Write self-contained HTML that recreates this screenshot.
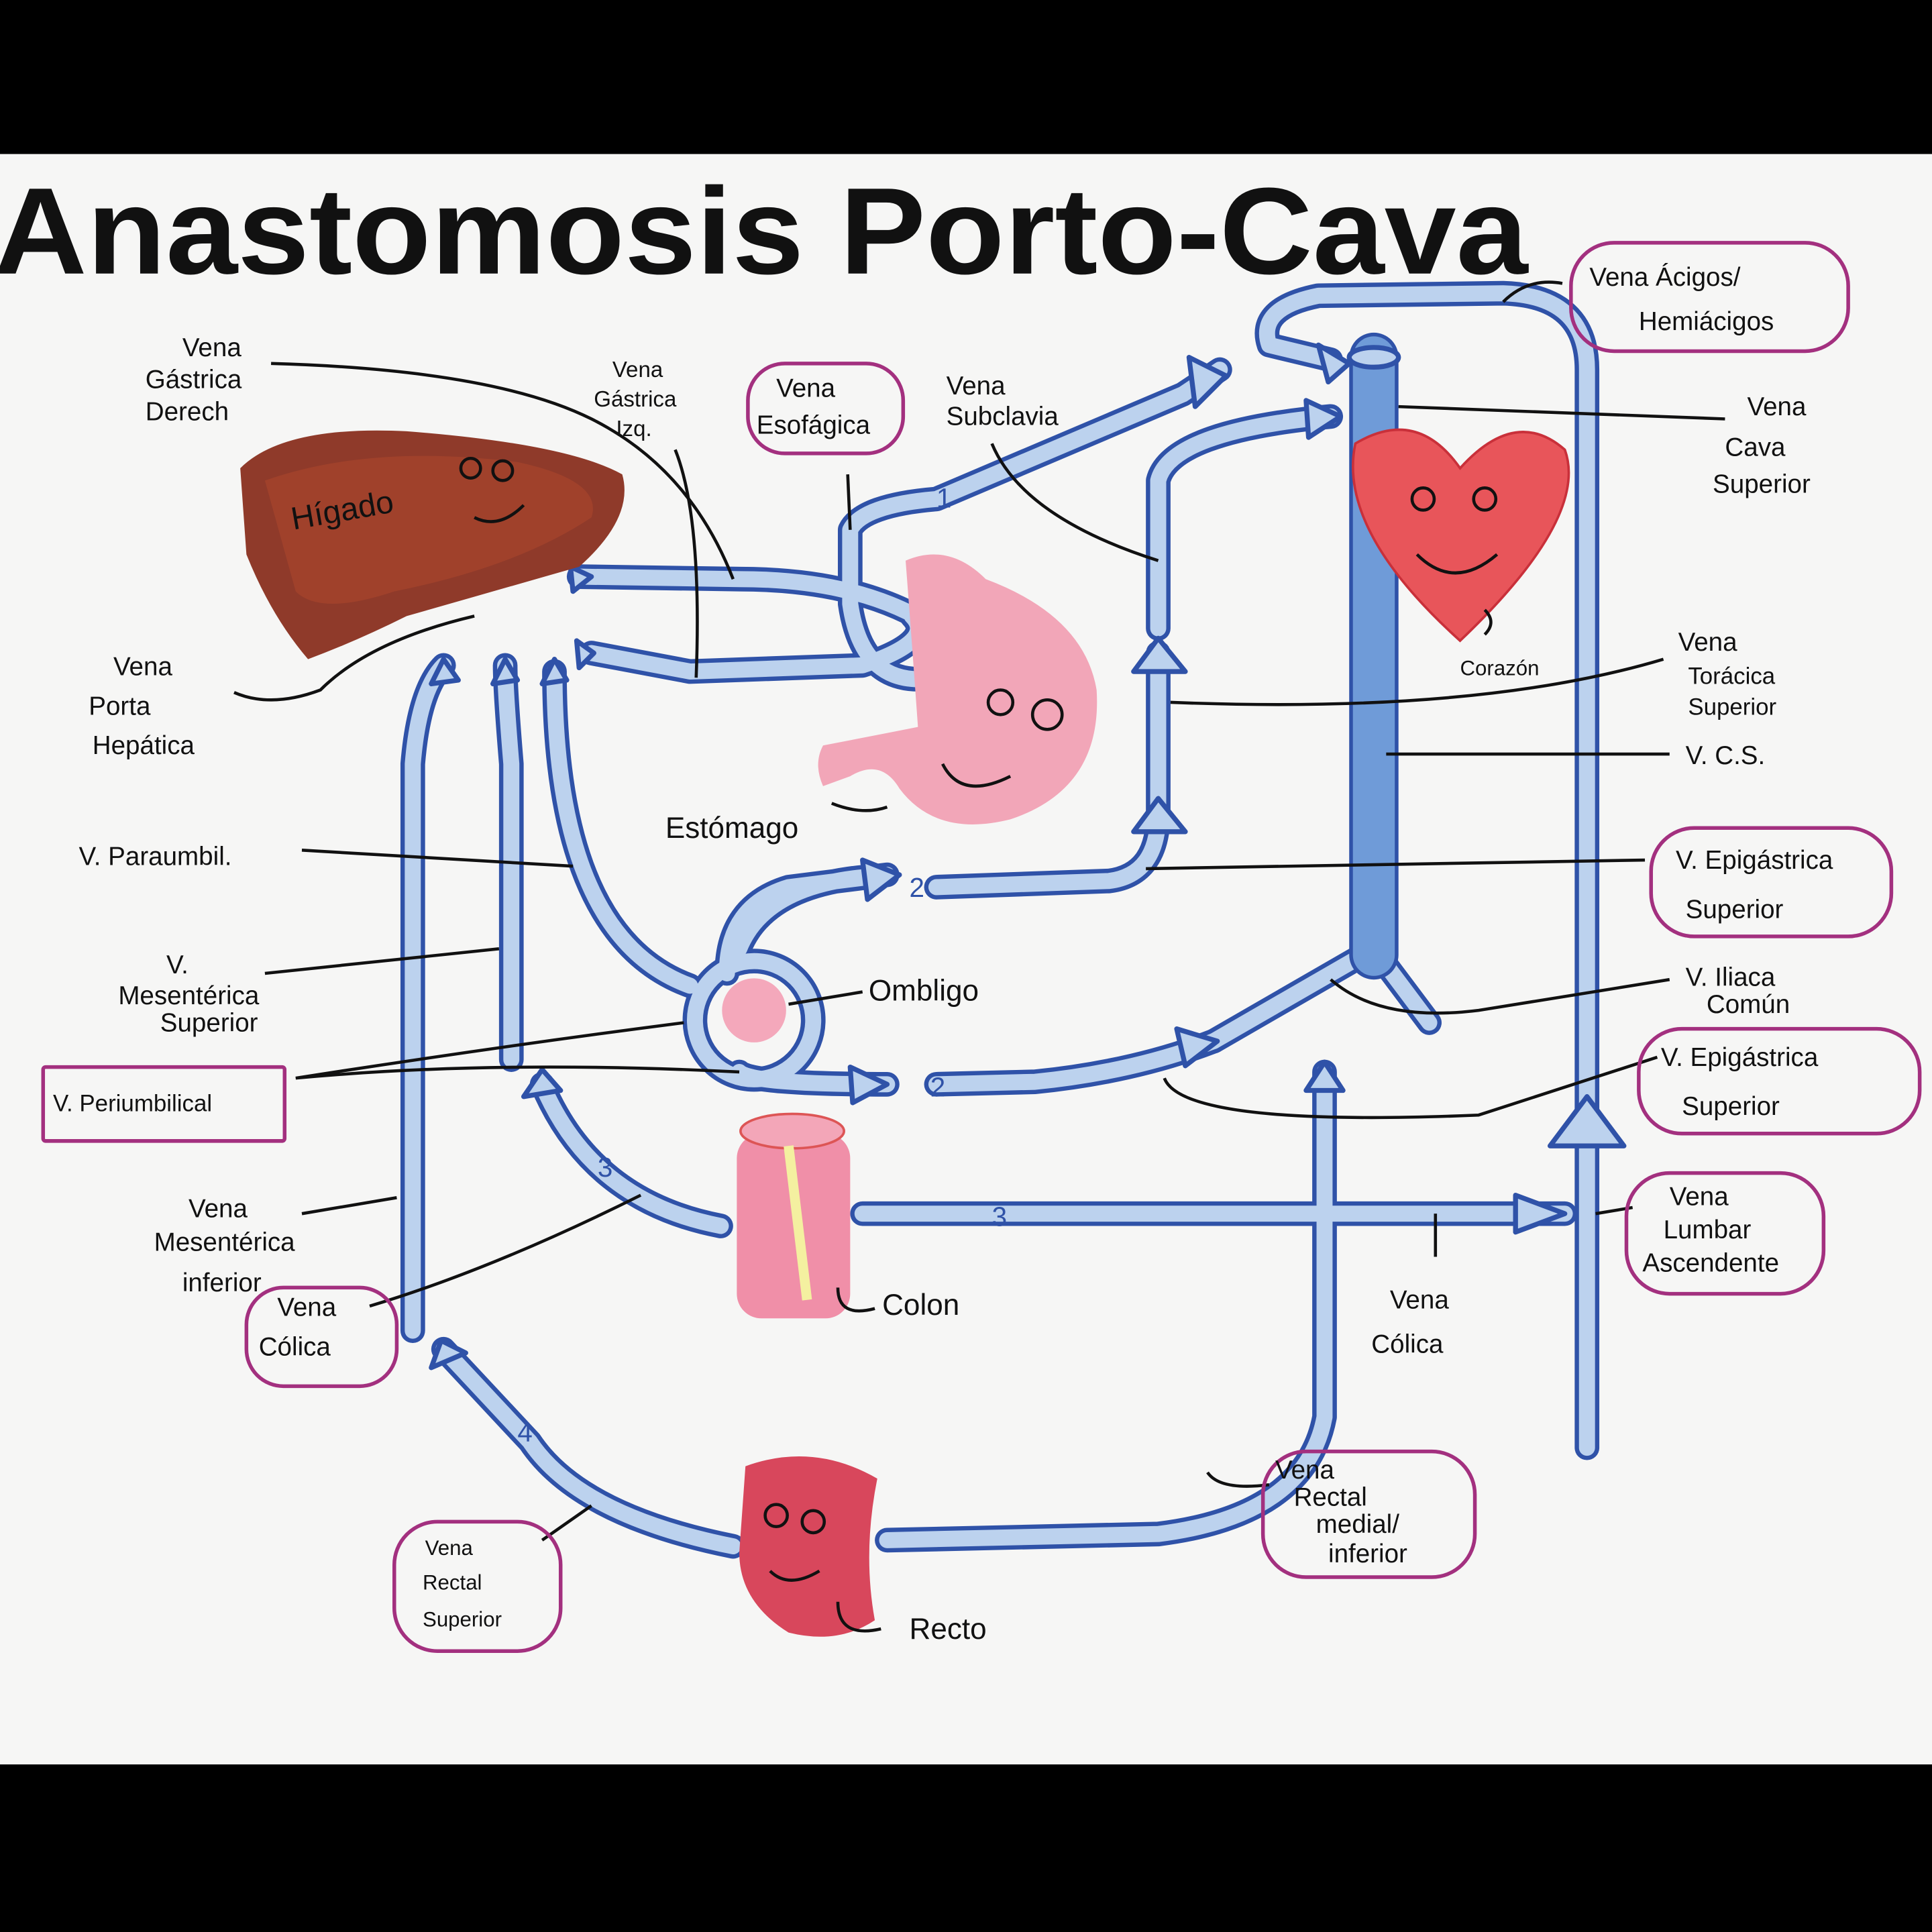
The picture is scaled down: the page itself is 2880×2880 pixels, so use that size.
<!DOCTYPE html>
<html><head><meta charset="utf-8"><style>
html,body{margin:0;padding:0;background:#000}
svg{display:block}
text{font-family:"Liberation Sans",sans-serif;fill:#111}
</style></head><body>
<svg width="2880" height="2880" viewBox="0 0 1568 1568" xmlns="http://www.w3.org/2000/svg">
<rect width="1568" height="1568" fill="#000"/>
<rect x="0" y="125" width="1568" height="1307" fill="#f6f6f5"/>
<text x="-5" y="222" font-size="100" font-weight="bold" textLength="1245" lengthAdjust="spacingAndGlyphs">Anastomosis Porto-Cava</text>

<g fill="none" stroke-linecap="round" stroke-linejoin="round">
<g id="v" stroke="#2f52a8" stroke-width="20">
<path d="M1288 1175 L1288 300 Q1288 240 1220 238 L1070 240 Q1020 250 1030 280 L1080 292"/>
<path d="M470 468 L600 470 Q700 470 760 510 Q790 540 760 550 Q700 560 690 490 L690 430 Q700 410 760 405 L960 320 L990 300"/>
<path d="M480 530 L560 545 L700 540 Q760 520 740 500"/>
<path d="M940 660 L940 530 M940 510 L940 390 Q950 350 1080 338"/>
<path d="M335 1080 L335 620 Q340 560 360 540"/>
<path d="M415 860 L415 620 Q410 560 410 540"/>
<path d="M450 545 Q450 760 560 800"/>
<path d="M760 720 L900 715 Q940 710 940 660"/>
<path d="M590 790 Q590 735 640 720 L720 710 M600 770 Q620 720 700 712"/>
<path d="M600 870 Q610 880 720 880 M760 880 L840 878 Q920 870 985 845"/>
<path d="M985 845 L1115 770 L1160 830 M1075 870 L1075 1150 Q1060 1230 940 1245 L720 1250"/>
<path d="M585 995 Q480 975 440 880"/>
<path d="M700 985 L1270 985"/>
<path d="M595 1255 Q470 1230 430 1170 L360 1095"/>
<circle cx="612" cy="828" r="48"/>
</g>
<g stroke="#bcd2ee" stroke-width="13">
<path d="M1288 1175 L1288 300 Q1288 240 1220 238 L1070 240 Q1020 250 1030 280 L1080 292"/>
<path d="M470 468 L600 470 Q700 470 760 510 Q790 540 760 550 Q700 560 690 490 L690 430 Q700 410 760 405 L960 320 L990 300"/>
<path d="M480 530 L560 545 L700 540 Q760 520 740 500"/>
<path d="M940 660 L940 530 M940 510 L940 390 Q950 350 1080 338"/>
<path d="M335 1080 L335 620 Q340 560 360 540"/>
<path d="M415 860 L415 620 Q410 560 410 540"/>
<path d="M450 545 Q450 760 560 800"/>
<path d="M760 720 L900 715 Q940 710 940 660"/>
<path d="M590 790 Q590 735 640 720 L720 710 M600 770 Q620 720 700 712"/>
<path d="M600 870 Q610 880 720 880 M760 880 L840 878 Q920 870 985 845"/>
<path d="M985 845 L1115 770 L1160 830 M1075 870 L1075 1150 Q1060 1230 940 1245 L720 1250"/>
<path d="M585 995 Q480 975 440 880"/>
<path d="M700 985 L1270 985"/>
<path d="M595 1255 Q470 1230 430 1170 L360 1095"/>
<circle cx="612" cy="828" r="48"/>
</g>
<path d="M1115 290 L1115 775" stroke="#2f52a8" stroke-width="40"/>
<path d="M1115 290 L1115 775" stroke="#6f9bd8" stroke-width="34"/>
<ellipse cx="1115" cy="290" rx="20" ry="8" stroke="#2f52a8" stroke-width="4" fill="#bcd2ee"/>
<g stroke="#2f52a8" stroke-width="4" fill="#bcd2ee">
<path d="M1258 930 L1288 890 L1318 930 Z"/>
<path d="M1230 970 L1270 985 L1230 1000 Z"/>
<path d="M920 545 L940 518 L962 545 Z"/>
<path d="M920 675 L940 648 L962 675 Z"/>
<path d="M965 290 L995 305 L970 330 Z"/>
<path d="M1060 325 L1088 338 L1062 355 Z"/>
<path d="M1070 280 L1095 295 L1078 310 Z"/>
<path d="M700 698 L730 710 L704 730 Z"/>
<path d="M690 866 L720 880 L692 895 Z"/>
<path d="M955 835 L988 845 L962 865 Z"/>
<path d="M1060 885 L1075 862 L1090 885 Z"/>
<path d="M425 890 L440 868 L455 885 Z"/>
<path d="M350 1110 L358 1088 L378 1098 Z"/>
<path d="M463 460 L480 468 L465 480 Z"/>
<path d="M468 520 L482 530 L470 542 Z"/>
<path d="M350 555 L360 535 L372 552 Z"/>
<path d="M400 555 L410 535 L420 552 Z"/>
<path d="M440 555 L450 535 L460 552 Z"/>
</g>
</g>
<g font-size="22"><text x="760" y="412" style="fill:#2f52a8">1</text><text x="738" y="728" style="fill:#2f52a8">2</text><text x="755" y="890" style="fill:#2f52a8">2</text><text x="485" y="955" style="fill:#2f52a8">3</text><text x="805" y="995" style="fill:#2f52a8">3</text><text x="420" y="1170" style="fill:#2f52a8">4</text></g>

<path d="M195 380 Q230 345 330 350 Q460 360 505 385 Q515 420 470 460 Q400 480 330 500 Q290 520 250 535 Q220 500 200 450 Z" fill="#8f3a2a"/>
<path d="M215 390 Q300 360 420 375 Q490 390 480 420 Q420 460 320 480 Q260 500 240 480 Z" fill="#a4432c" opacity=".8"/>
<text x="238" y="430" font-size="26" transform="rotate(-10 238 430)">Hígado</text>
<path d="M735 455 Q770 440 800 470 Q880 500 890 560 Q895 640 820 665 Q760 680 730 640 Q715 615 690 630 L668 638 Q660 620 668 605 Q720 595 745 590 Q740 520 735 455 Z" fill="#f2a6b8"/>
<path d="M1100 360 Q1150 330 1185 380 Q1230 330 1270 365 Q1290 420 1185 520 Q1085 430 1100 360 Z" fill="#e8555a" stroke="#c9303a" stroke-width="2"/>
<circle cx="612" cy="820" r="26" fill="#f4a8bb"/>
<rect x="598" y="920" width="92" height="150" rx="20" fill="#f08fa8"/>
<ellipse cx="643" cy="918" rx="42" ry="14" fill="#f3a6b8" stroke="#d55" stroke-width="2"/>
<path d="M640 930 L655 1055" stroke="#f4f0a0" stroke-width="8"/>
<path d="M605 1190 Q660 1170 712 1200 Q700 1260 710 1315 Q680 1335 640 1325 Q600 1300 600 1260 Z" fill="#d8475c"/>
<g stroke="#111" stroke-width="2.5" fill="none">
<circle cx="812" cy="570" r="10"/><circle cx="850" cy="580" r="12"/><path d="M765 620 Q780 650 820 630"/>
<circle cx="630" cy="1230" r="9"/><circle cx="660" cy="1235" r="9"/><path d="M625 1275 Q640 1290 665 1275"/>
<path d="M1150 450 Q1180 480 1215 450"/><circle cx="1155" cy="405" r="9"/><circle cx="1205" cy="405" r="9"/>
<circle cx="382" cy="380" r="8"/><circle cx="408" cy="382" r="8"/><path d="M385 420 Q405 430 425 410"/>
</g>

<g stroke="#111" stroke-width="2.5" fill="none">
<path d="M220 295 Q400 300 480 340 Q560 380 595 470"/>
<path d="M548 365 Q570 420 565 550"/>
<path d="M688 385 L690 430"/>
<path d="M805 360 Q830 420 940 455"/>
<path d="M1135 330 L1400 340"/>
<path d="M950 570 Q1200 580 1350 535"/>
<path d="M1125 612 L1355 612"/>
<path d="M930 705 L1335 698"/>
<path d="M1080 795 Q1120 830 1200 820 L1355 795"/>
<path d="M945 875 Q960 915 1200 905 L1345 858"/>
<path d="M1165 985 L1165 1020"/>
<path d="M1295 985 L1325 980"/>
<path d="M980 1195 Q990 1210 1030 1205"/>
<path d="M1220 245 Q1240 225 1268 230"/>
<path d="M385 500 Q300 520 260 560 Q220 575 190 562"/>
<path d="M465 703 L245 690"/>
<path d="M405 770 L215 790"/>
<path d="M555 830 Q400 850 240 875 Q400 860 600 870"/>
<path d="M322 972 L245 985"/>
<path d="M520 970 Q400 1030 300 1060"/>
<path d="M480 1222 L440 1250"/>
<path d="M720 655 Q700 662 675 652"/>
<path d="M640 815 L700 805"/>
<path d="M680 1045 Q680 1070 710 1062"/>
<path d="M680 1300 Q680 1330 715 1322"/>
<path d="M1205 495 Q1215 505 1205 515"/>
</g>

<g fill="none" stroke="#a3307f" stroke-width="3">
<rect x="607" y="295" width="126" height="73" rx="30"/>
<rect x="1275" y="197" width="225" height="88" rx="35"/>
<rect x="1340" y="672" width="195" height="88" rx="35"/>
<rect x="1330" y="835" width="228" height="85" rx="35"/>
<rect x="1320" y="952" width="160" height="98" rx="35"/>
<rect x="1025" y="1178" width="172" height="102" rx="35"/>
<rect x="320" y="1235" width="135" height="105" rx="35"/>
<rect x="200" y="1045" width="122" height="80" rx="30"/>
<rect x="35" y="866" width="196" height="60" rx="2"/>
</g>

<g font-size="21">
<text x="148" y="289">Vena</text><text x="118" y="315">Gástrica</text><text x="118" y="341">Derech</text>
<text x="497" y="306" font-size="18">Vena</text><text x="482" y="330" font-size="18">Gástrica</text><text x="500" y="354" font-size="18">Izq.</text>
<text x="630" y="322">Vena</text><text x="614" y="352">Esofágica</text>
<text x="768" y="320">Vena</text><text x="768" y="345">Subclavia</text>
<text x="1290" y="232">Vena Ácigos/</text><text x="1330" y="268">Hemiácigos</text>
<text x="1418" y="337">Vena</text><text x="1400" y="370">Cava</text><text x="1390" y="400">Superior</text>
<text x="1185" y="548" font-size="17">Corazón</text>
<text x="1362" y="528">Vena</text><text x="1370" y="555" font-size="19">Torácica</text><text x="1370" y="580" font-size="19">Superior</text>
<text x="1368" y="620">V. C.S.</text>
<text x="1360" y="705">V. Epigástrica</text><text x="1368" y="745">Superior</text>
<text x="1368" y="800">V. Iliaca</text><text x="1385" y="822">Común</text>
<text x="1348" y="865">V. Epigástrica</text><text x="1365" y="905">Superior</text>
<text x="1355" y="978">Vena</text><text x="1350" y="1005">Lumbar</text><text x="1333" y="1032">Ascendente</text>
<text x="1128" y="1062">Vena</text><text x="1113" y="1098">Cólica</text>
<text x="1035" y="1200">Vena</text><text x="1050" y="1222">Rectal</text><text x="1068" y="1244">medial/</text><text x="1078" y="1268">inferior</text>
<text x="92" y="548">Vena</text><text x="72" y="580">Porta</text><text x="75" y="612">Hepática</text>
<text x="540" y="680" font-size="24">Estómago</text>
<text x="64" y="702">V. Paraumbil.</text>
<text x="135" y="790">V.</text><text x="96" y="815">Mesentérica</text><text x="130" y="837">Superior</text>
<text x="705" y="812" font-size="24">Ombligo</text>
<text x="43" y="902" font-size="19">V. Periumbilical</text>
<text x="153" y="988">Vena</text><text x="125" y="1015">Mesentérica</text><text x="148" y="1048">inferior</text>
<text x="225" y="1068">Vena</text><text x="210" y="1100">Cólica</text>
<text x="716" y="1067" font-size="24">Colon</text>
<text x="345" y="1262" font-size="17">Vena</text><text x="343" y="1290" font-size="17">Rectal</text><text x="343" y="1320" font-size="17">Superior</text>
<text x="738" y="1330" font-size="24">Recto</text>
</g>
</svg>
</body></html>
